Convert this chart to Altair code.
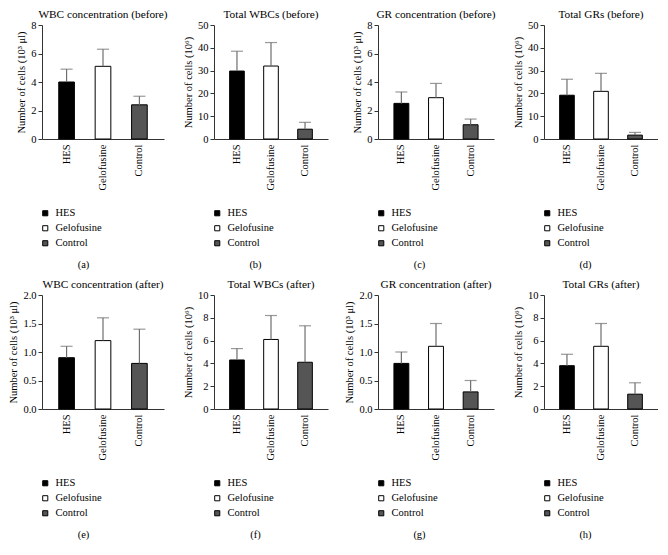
import altair as alt
import pandas as pd

groups = ["HES", "Gelofusine", "Control"]
colors = ["#000000", "#ffffff", "#555555"]

titles = [
    "WBC concentration (before)", "Total WBCs (before)",
    "GR concentration (before)", "Total GRs (before)",
    "WBC concentration (after)", "Total WBCs (after)",
    "GR concentration (after)", "Total GRs (after)",
]
letters = ["(a)", "(b)", "(c)", "(d)", "(e)", "(f)", "(g)", "(h)"]
conc_title = "Number of cells (10\u00b3 \u03bcl)"
total_title = "Number of cells (10\u2076)"
y_titles = [conc_title, total_title, conc_title, total_title,
            conc_title, total_title, conc_title, total_title]
y_max = [8, 50, 8, 50, 2, 10, 2, 10]
y_ticks = [
    [0, 2, 4, 6, 8], [0, 10, 20, 30, 40, 50], [0, 2, 4, 6, 8], [0, 10, 20, 30, 40, 50],
    [0, 0.5, 1.0, 1.5, 2.0], [0, 2, 4, 6, 8, 10], [0, 0.5, 1.0, 1.5, 2.0], [0, 2, 4, 6, 8, 10],
]
y_format = ["d", "d", "d", "d", ".1f", "d", ".1f", "d"]

means = [
    [4.0, 5.1, 2.4],
    [29.8, 32.0, 4.3],
    [2.5, 2.9, 1.0],
    [19.2, 20.9, 1.7],
    [0.9, 1.2, 0.8],
    [4.3, 6.1, 4.1],
    [0.8, 1.1, 0.3],
    [3.8, 5.5, 1.3],
]
uppers = [
    [4.9, 6.3, 3.0],
    [38.5, 42.3, 7.3],
    [3.3, 3.9, 1.4],
    [26.2, 28.8, 2.9],
    [1.1, 1.6, 1.4],
    [5.3, 8.2, 7.3],
    [1.0, 1.5, 0.5],
    [4.8, 7.5, 2.3],
]

FONT = "Liberation Serif"
COL_W = [122, 114, 116, 114]
H = 114
AXIS_COLOR = "#333333"
ERR_COLOR = "#6e6e6e"


def panel(i):
    w = COL_W[i % 4]
    df = pd.DataFrame({"group": groups, "mean": means[i], "upper": uppers[i]})
    xscale = alt.Scale(paddingInner=0.57, paddingOuter=0.46)
    xaxis = alt.Axis(
        title=letters[i], labelAngle=-90, labelFont=FONT, labelFontSize=10.5,
        labelColor="#000", labelPadding=5, ticks=False,
        domainColor=AXIS_COLOR, titleFont=FONT, titleFontSize=10.5,
        titleFontWeight="normal", titleColor="#000", titleY=125,
        titleX=41, titleBaseline="middle",
    )
    yaxis = alt.Axis(
        title=y_titles[i], values=y_ticks[i], format=y_format[i], grid=False,
        labelFont=FONT, labelFontSize=10.5, labelColor="#000", labelPadding=2,
        tickSize=4, tickColor=AXIS_COLOR, domainColor=AXIS_COLOR,
        titleFont=FONT, titleFontSize=10.5, titleFontWeight="normal",
        titleColor="#000", titlePadding=4,
    )
    yscale = alt.Scale(domain=[0, y_max[i]], nice=False)
    x = alt.X("group:N", sort=groups, scale=xscale, axis=xaxis)
    base = alt.Chart(df)
    bars = base.mark_bar(stroke="black", strokeWidth=1).encode(
        x=x,
        y=alt.Y("mean:Q", scale=yscale, axis=yaxis),
        color=alt.Color(
            "group:N", sort=groups,
            scale=alt.Scale(domain=groups, range=colors),
            legend=alt.Legend(
                title=None, orient="none", legendX=-2, legendY=183,
                direction="vertical", symbolType="square", symbolSize=26,
                symbolStrokeColor="black", symbolStrokeWidth=1,
                labelFont=FONT, labelFontSize=10.5, labelColor="#000",
                rowPadding=4, labelOffset=5,
            ),
        ),
    )
    err = base.mark_rule(color=ERR_COLOR, strokeWidth=1.2).encode(
        x=x,
        y=alt.Y("mean:Q", scale=yscale, axis=yaxis),
        y2="upper:Q",
    )
    cap = base.mark_tick(color=ERR_COLOR, size=12, thickness=1.2, orient="horizontal").encode(
        x=x,
        y=alt.Y("upper:Q", scale=yscale, axis=yaxis),
    )
    return alt.layer(bars, err, cap).properties(
        width=w, height=H,
        title=alt.TitleParams(
            titles[i], font=FONT, fontSize=11.3, fontWeight="normal",
            color="#000", offset=0,
        ),
    )


chart = alt.concat(*[panel(i) for i in range(8)], columns=4,
                   spacing={"row": 156, "column": 50}, bounds="flush") \
    .resolve_scale(color="independent").resolve_legend(color="independent") \
    .properties(padding={"left": 0, "top": 0, "right": 0, "bottom": 0}) \
    .configure_view(stroke=None)

chart.save("out.html", embed_options={"renderer": "svg", "actions": False})
